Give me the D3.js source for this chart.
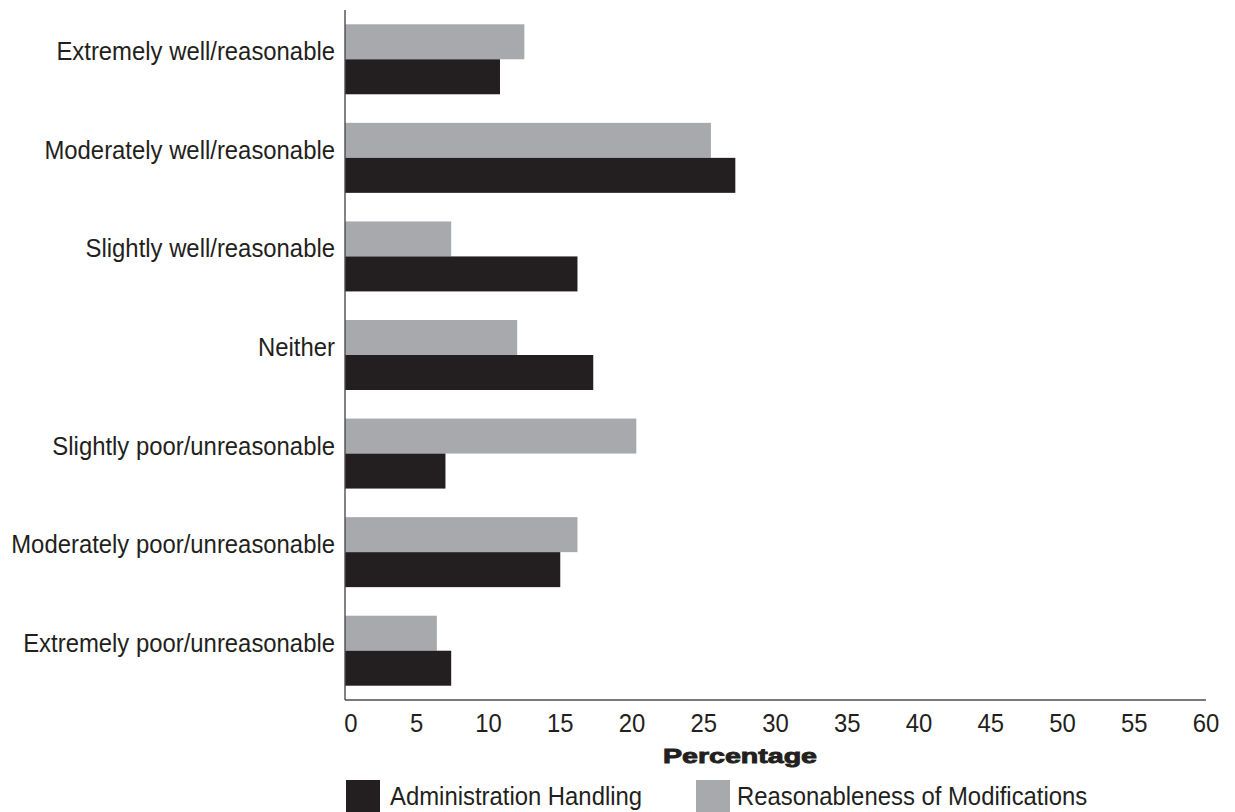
<!DOCTYPE html>
<html>
<head>
<meta charset="utf-8">
<script src="https://cdn.jsdelivr.net/npm/d3@7"></script>
<style>
  html, body { margin: 0; padding: 0; background: #ffffff; }
  svg { display: block; font-family: "Liberation Sans", Arial, Helvetica, sans-serif; }
</style>
</head>
<body>
<svg id="chart" width="1235" height="812"></svg>
<script>
// Survey responses, top to bottom
const categories = [
  "Extremely well/reasonable",
  "Moderately well/reasonable",
  "Slightly well/reasonable",
  "Neither",
  "Slightly poor/unreasonable",
  "Moderately poor/unreasonable",
  "Extremely poor/unreasonable"
];
// Percentages per series
const reasonableness = [12.5, 25.5, 7.4, 12.0, 20.3, 16.2, 6.4];
const administration = [10.8, 27.2, 16.2, 17.3, 7.0, 15.0, 7.4];
const seriesNames = ["Administration Handling", "Reasonableness of Modifications"];
const seriesColors = ["#231f20", "#a7a9ac"];
const xTicks = [0, 5, 10, 15, 20, 25, 30, 35, 40, 45, 50, 55, 60];
const xTitle = "Percentage";

const svg = d3.select("#chart");
const ink = "#231f20";
const fontSize = 25;
const squeeze = 0.955; // slightly narrow glyphs

const margin = { left: 345, right: 29, top: 10, bottom: 112 };
const W = 1235, H = 812;
const innerBottom = H - margin.bottom;

const x = d3.scaleLinear().domain([0, 60]).range([margin.left, W - margin.right]);
const y = d3.scaleBand().domain(categories).range([margin.top, innerBottom])
  .paddingInner(0.29).paddingOuter(0.145);
// Within each category: gray bar on top, black bar below
const sub = d3.scaleBand().domain(["reasonableness", "administration"]).range([0, y.bandwidth()]);

const rows = categories.map((c, i) => ({
  cat: c,
  reasonableness: reasonableness[i],
  administration: administration[i]
}));

const groups = svg.append("g").selectAll("g").data(rows).join("g")
  .attr("transform", d => `translate(0,${y(d.cat)})`);

groups.append("rect")
  .attr("x", x(0))
  .attr("y", sub("reasonableness"))
  .attr("height", sub.bandwidth())
  .attr("width", d => x(d.reasonableness) - x(0))
  .attr("fill", seriesColors[1]);

groups.append("rect")
  .attr("x", x(0))
  .attr("y", sub("administration"))
  .attr("height", sub.bandwidth())
  .attr("width", d => x(d.administration) - x(0))
  .attr("fill", seriesColors[0]);

// Axis lines
svg.append("line")
  .attr("x1", x(0)).attr("x2", x(0))
  .attr("y1", margin.top).attr("y2", innerBottom)
  .attr("stroke", "#4d4d4f").attr("stroke-width", 1.4);
svg.append("line")
  .attr("x1", x(0)).attr("x2", x(60))
  .attr("y1", innerBottom).attr("y2", innerBottom)
  .attr("stroke", "#4d4d4f").attr("stroke-width", 1.4);

// Places a text at (px, py) with narrowed glyphs
function place(px, py) {
  return `translate(${px},${py}) scale(${squeeze},1)`;
}

// Category labels (baseline on band centre)
svg.append("g").selectAll("text").data(categories).join("text")
  .attr("transform", d => place(335, y(d) + y.bandwidth() / 2 + 1))
  .attr("text-anchor", "end")
  .attr("font-size", fontSize)
  .attr("fill", ink)
  .text(d => d);

// Tick labels
svg.append("g").selectAll("text").data(xTicks).join("text")
  .attr("transform", d => place(x(d) + (d === 0 ? 6 : 0), 732))
  .attr("text-anchor", "middle")
  .attr("font-size", fontSize)
  .attr("fill", ink)
  .text(d => d);

// Axis title
svg.append("text")
  .attr("x", 663)
  .attr("y", 763)
  .attr("font-size", 21)
  .attr("font-weight", 900)
  .attr("fill", ink)
  .attr("stroke", ink)
  .attr("stroke-width", 0.9)
  .attr("textLength", 154)
  .attr("lengthAdjust", "spacingAndGlyphs")
  .text(xTitle);

// Legend
const legendX = [346, 696];
const legend = svg.append("g").selectAll("g").data(seriesNames).join("g")
  .attr("transform", (d, i) => `translate(${legendX[i]},780)`);
legend.append("rect")
  .attr("width", 34).attr("height", 34)
  .attr("fill", (d, i) => seriesColors[i]);
legend.append("text")
  .attr("transform", (d, i) => place(i === 0 ? 44 : 41, 25))
  .attr("font-size", fontSize)
  .attr("fill", ink)
  .text(d => d);
</script>
</body>
</html>
